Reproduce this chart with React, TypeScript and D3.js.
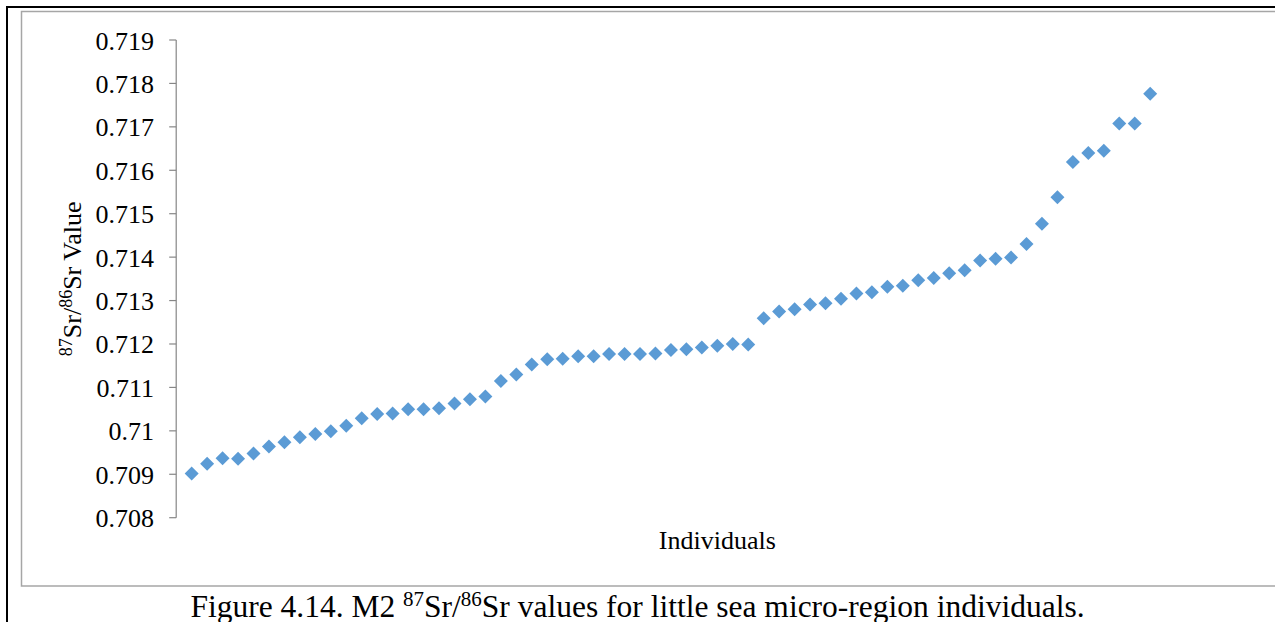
import React from "react";
import * as d3 from "d3";

// Individuals, ranked by M2 87Sr/86Sr value
const individuals: number[] = Array.from({ length: 63 }, (_, i) => i + 1);
const srValues: number[] = [
  0.70902, 0.70924, 0.70937, 0.70936, 0.70948, 0.70964, 0.70974, 0.70985, 0.70993, 0.70999,
  0.71012, 0.71029, 0.71039, 0.7104, 0.7105, 0.7105, 0.71052, 0.71063, 0.71073, 0.71079,
  0.71115, 0.7113, 0.71153, 0.71165, 0.71166, 0.71172, 0.71172, 0.71177, 0.71177, 0.71177,
  0.71178, 0.71186, 0.71188, 0.71192, 0.71196, 0.712, 0.71199, 0.71259, 0.71275, 0.7128,
  0.71291, 0.71294, 0.71304, 0.71316, 0.71319, 0.71332, 0.71334, 0.71347, 0.71352, 0.71363,
  0.7137, 0.71392, 0.71396, 0.71399, 0.7143, 0.71477, 0.71538, 0.71619, 0.7164, 0.71645,
  0.71708, 0.71708, 0.71776,
];
const yTicks: number[] = [
  0.708, 0.709, 0.71, 0.711, 0.712, 0.713, 0.714, 0.715, 0.716, 0.717, 0.718, 0.719,
];
const xDomain: [number, number] = [0, 70];

const W = 1275;
const H = 622;
const FONT = "'Liberation Serif', 'Times New Roman', serif";
const POINT_COLOR = "#5b9bd5";
const AXIS_COLOR = "#868686";

export default function App() {
  const x = d3.scaleLinear().domain(xDomain).range([176.2, 1258.4]);
  const y = d3.scaleLinear().domain([yTicks[0], yTicks[yTicks.length - 1]]).range([517.7, 40]);
  const axisX = x(0);
  const r = 7;
  const diamond = `M0,${-r}L${r},0L0,${r}L${-r},0Z`;
  const fmt = (v: number) => String(Number(v.toFixed(3)));
  const plotMidY = (y.range()[0] + y.range()[1]) / 2;
  const plotMidX = (x.range()[0] + x.range()[1]) / 2;

  return (
    <svg
      width={W}
      height={H}
      style={{ position: "absolute", left: 0, top: 0, background: "#fff" }}
      fontFamily={FONT}
    >
      {/* page frame */}
      <line x1={7} y1={7} x2={W} y2={7} stroke="#000" strokeWidth={2} />
      <line x1={7} y1={6} x2={7} y2={H} stroke="#000" strokeWidth={2} />
      {/* chart area border */}
      <path d={`M${W},11.5H21.5V586H${W}`} fill="none" stroke="#a6a6a6" strokeWidth={1.5} />

      {/* y axis */}
      <line x1={axisX} y1={y(yTicks[0])} x2={axisX} y2={y(yTicks[yTicks.length - 1])} stroke={AXIS_COLOR} strokeWidth={1.2} />
      {yTicks.map((t) => (
        <g key={t}>
          <line x1={axisX - 7} x2={axisX} y1={y(t)} y2={y(t)} stroke={AXIS_COLOR} strokeWidth={1.2} />
          <text x={154} y={y(t) + 9.5} textAnchor="end" fontSize={26} fill="#000">
            {fmt(t)}
          </text>
        </g>
      ))}

      {/* y axis title */}
      <text
        transform={`translate(81,${plotMidY}) rotate(-90)`}
        textAnchor="middle"
        fontSize={26}
        fill="#000"
      >
        <tspan fontSize={18} dy={-9}>87</tspan>
        <tspan dy={9}>Sr/</tspan>
        <tspan fontSize={18} dy={-9}>86</tspan>
        <tspan dy={9}>Sr Value</tspan>
      </text>

      {/* x axis title */}
      <text x={plotMidX} y={549} textAnchor="middle" fontSize={26} fill="#000">
        Individuals
      </text>

      {/* points */}
      {srValues.map((v, i) => (
        <path key={i} d={diamond} transform={`translate(${x(individuals[i])},${y(v)})`} fill={POINT_COLOR} />
      ))}

      {/* caption */}
      <text x={W / 2} y={617} textAnchor="middle" fontSize={31.5} fill="#000">
        <tspan>Figure 4.14. M2 </tspan>
        <tspan fontSize={21} dy={-11}>87</tspan>
        <tspan dy={11}>Sr/</tspan>
        <tspan fontSize={21} dy={-11}>86</tspan>
        <tspan dy={11}>Sr values for little sea micro-region individuals.</tspan>
      </text>
    </svg>
  );
}
